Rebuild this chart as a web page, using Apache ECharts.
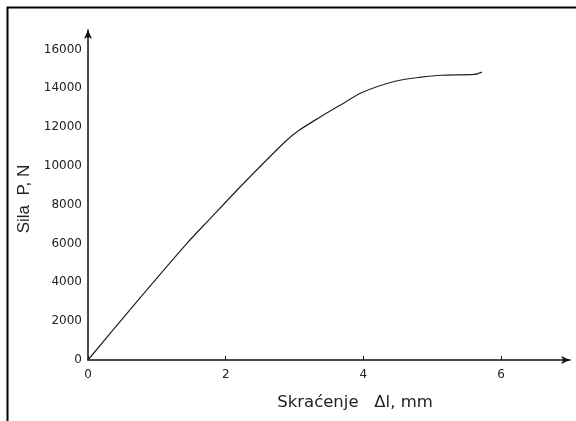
<!DOCTYPE html>
<html>
<head>
<meta charset="utf-8">
<script src="https://cdn.jsdelivr.net/npm/echarts@6/dist/echarts.min.js"></script>
<style>
html,body{margin:0;padding:0;background:#fff;}
#chart{width:576px;height:421px;}
</style>
</head>
<body>
<div id="chart"></div>
<script>
// Shortening Δl (mm)
var deltaL = [0, 0.67, 1.44, 1.76, 2.24, 2.87, 3.06, 3.35, 3.64, 3.98, 4.46, 4.84, 5.13, 5.61, 5.72];
// Force P (N)
var force = [0, 2840, 6020, 7230, 9030, 11270, 11820, 12470, 13080, 13780, 14360, 14570, 14670, 14710, 14830];

var xTicks = [0, 2, 4, 6];
var yTicks = [0, 2000, 4000, 6000, 8000, 10000, 12000, 14000, 16000];

var points = deltaL.map(function (x, i) { return [x, force[i]]; });

var chart = echarts.init(document.getElementById('chart'), null, {renderer: 'canvas'});
var fontFam = 'DejaVu Sans';
chart.setOption({
  animation: false,
  backgroundColor: '#fff',
  grid: {left: 88, top: 30, right: 6, bottom: 61, containLabel: false},
  xAxis: {
    type: 'value',
    min: 0, max: 7, interval: 2,
    name: 'Skraćenje   Δl, mm',
    nameLocation: 'middle',
    nameGap: 34,
    nameTextStyle: {fontFamily: fontFam, fontSize: 16.5, color: '#222', padding: [0, 0, 0, 52]},
    axisLine: {lineStyle: {color: '#111', width: 1.5}, symbol: ['none', 'arrow'], symbolSize: [6, 9]},
    axisTick: {inside: true, length: 4, lineStyle: {color: '#111'}},
    axisLabel: {
      fontFamily: fontFam, fontSize: 12, color: '#222', margin: 9, showMaxLabel: false,
      formatter: function (v) { return xTicks.indexOf(v) >= 0 ? String(v) : ''; }
    },
    splitLine: {show: false}
  },
  yAxis: {
    type: 'value',
    min: 0, max: 17000, interval: 2000,
    name: 'Sila  P, N',
    nameLocation: 'middle',
    nameGap: 47,
    nameTextStyle: {fontFamily: 'Liberation Sans', fontSize: 17, color: '#222', padding: [0, 8, 0, 0]},
    axisLine: {lineStyle: {color: '#111', width: 1.5}, symbol: ['none', 'arrow'], symbolSize: [6, 9]},
    axisTick: {show: false},
    axisLabel: {
      fontFamily: fontFam, fontSize: 12, color: '#222', margin: 6, showMaxLabel: false,
      formatter: function (v) { return yTicks.indexOf(v) >= 0 ? String(v) : ''; }
    },
    splitLine: {show: false}
  },
  graphic: [{
    type: 'rect',
    shape: {x: 7.5, y: 7.5, width: 640, height: 500},
    style: {fill: 'none', stroke: '#000', lineWidth: 2},
    silent: true
  }],
  series: [{
    type: 'line',
    data: points,
    smooth: 0.25,
    showSymbol: false,
    lineStyle: {color: '#222', width: 1.2}
  }]
});
</script>
</body>
</html>
